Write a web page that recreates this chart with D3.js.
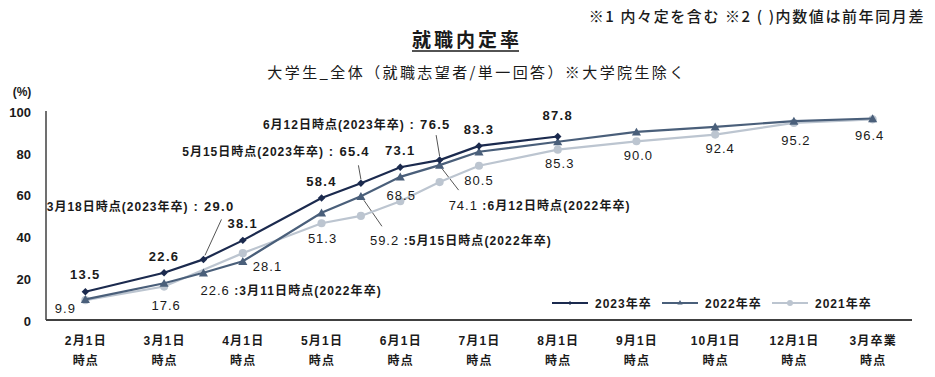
<!DOCTYPE html>
<html><head><meta charset="utf-8">
<script src="https://cdn.jsdelivr.net/npm/d3@7"></script>
<style>
body{margin:0;background:#fff;}
svg{display:block;}
text{font-family:"Liberation Sans","Noto Sans CJK JP",sans-serif;fill:#1a1a1a;}
</style></head><body>
<svg id="chart" width="935" height="377"></svg>
<script>
// ---------- data ----------
const categories = ["2月1日","3月1日","4月1日","5月1日","6月1日","7月1日","8月1日","9月1日","10月1日","12月1日","3月卒業"];
const categorySuffix = "時点";
const yTicks = [0,20,40,60,80,100];
const seriesNames = ["2023年卒","2022年卒","2021年卒"];

// positions on the timeline (category index; .5 = mid-month survey)
const pos2023 = [0,1,1.5,2,3,3.5,4,4.5,5,6];
const val2023 = [13.5,22.6,29.0,38.1,58.4,65.4,73.1,76.5,83.3,87.8];
const pos2022 = [0,1,1.5,2,3,3.5,4,4.5,5,6,7,8,9,10];
const val2022 = [9.9,17.6,22.6,28.1,51.3,59.2,68.5,74.1,80.5,85.3,90.0,92.4,95.2,96.4];
const pos2021 = [0,1,2,3,3.5,4,4.5,5,6,7,8,9,10];
const val2021 = [9.5,16.0,32.0,46.3,49.8,56.8,66.0,73.8,81.5,85.5,88.7,94.3,96.0];

const notes2023 = {2:"3月18日時点(2023年卒)",5:"5月15日時点(2023年卒)",7:"6月12日時点(2023年卒)"};
const notes2022 = {2:"3月11日時点(2022年卒)",5:"5月15日時点(2022年卒)",7:"6月12日時点(2022年卒)"};

const titleText = "就職内定率";
const subtitleText = "大学生_全体（就職志望者/単一回答）※大学院生除く";
const noteText = "※1 内々定を含む ※2 ( )内数値は前年同月差";
const unitText = "(%)";

// ---------- layout / style ----------
const colors = {"2023年卒":"#1b2a4e","2022年卒":"#4a5f7a","2021年卒":"#bcc5d0"};
const W = 935, H = 377;
const plot = {left:46, right:912, top:111, bottom:320};

// label offsets (style): [anchor, dx, dy]
const lab2023 = {def:["middle",0,-12], 0:["middle",0,-13], 9:["middle",0,-16],
  2:["end",31,-48], 5:["end",9,-27], 7:["end",11,-31]};
const lab2022 = {def:["middle",2,26], 0:["middle",-20,14], 1:["middle",2,27], 2:["start",-3,22],
  3:["start",10,10], 4:["middle",1,30], 5:["start",9,49], 6:["middle",1,23], 7:["start",9,45],
  8:["middle",0,33], 9:["middle",2,26], 10:["middle",2,28], 11:["middle",5,26], 12:["middle",2,24], 13:["middle",-3,21]};
const leader2023 = {2:[18,-40,1.5,-4], 5:[-2.5,-18,0,-4], 7:[-3.5,-25,0,-4]};
const leader2022 = {5:[3,4,21,30], 7:[2,3,19,25]};

const svg = d3.select("#chart");

const xBand = d3.scalePoint().domain(categories).range([plot.left, plot.right]).padding(0.5);
const x = d3.scaleLinear().domain([0, categories.length-1])
  .range([xBand(categories[0]), xBand(categories[categories.length-1])]);
const y = d3.scaleLinear().domain([0,100]).range([plot.bottom, plot.top]);

// titles
svg.append("text").attr("x", W-10).attr("y", 22).attr("text-anchor","end")
  .attr("font-size",15).attr("font-weight","500").attr("letter-spacing",1.6)
  .style("font-family","'Noto Sans CJK JP',sans-serif").text(noteText);
const tt = svg.append("text").attr("x", 467).attr("y", 47).attr("text-anchor","middle")
  .attr("font-size",19).attr("font-weight","bold").attr("letter-spacing",3)
  .style("font-family","'Noto Sans CJK JP',sans-serif").text(titleText);
const tb = tt.node().getBBox();
svg.append("line").attr("x1",tb.x).attr("x2",tb.x+tb.width-3).attr("y1",51).attr("y2",51)
  .attr("stroke","#1a1a1a").attr("stroke-width",1.5);
svg.append("text").attr("x", 477).attr("y", 78).attr("text-anchor","middle")
  .attr("font-size",15).attr("letter-spacing",2.4)
  .style("font-family","'Noto Sans CJK JP',sans-serif").text(subtitleText);

// y axis
const yAxis = svg.append("g").attr("transform",`translate(${plot.left},0)`)
  .call(d3.axisLeft(y).tickValues(yTicks).tickSize(0).tickSizeOuter(0).tickPadding(15));
yAxis.select(".domain").attr("stroke","#404040").attr("stroke-width",1.5)
  .attr("d", `M0,${plot.top}V${plot.bottom}`);
yAxis.selectAll(".tick text").attr("font-size",13).attr("font-weight","bold")
  .style("font-family","'Liberation Sans',sans-serif").attr("fill","#1a1a1a").attr("dy","0.4em");
svg.append("text").attr("x",22).attr("y",96).attr("text-anchor","middle")
  .attr("font-size",12).attr("font-weight","bold").text(unitText);

// x axis
const xAxis = svg.append("g").attr("transform",`translate(0,${plot.bottom})`)
  .call(d3.axisBottom(xBand).tickSize(0).tickSizeOuter(0));
xAxis.select(".domain").attr("stroke","#404040").attr("stroke-width",2)
  .attr("d", `M${plot.left},0H${plot.right}`);
xAxis.selectAll(".tick text").each(function(d){
  const t = d3.select(this);
  t.text(null).attr("y",0).attr("dy",null).attr("font-size",12).attr("font-weight","bold")
   .attr("letter-spacing",1.2).attr("fill","#1a1a1a");
  t.append("tspan").attr("x",0).attr("y",25).text(d);
  t.append("tspan").attr("x",0).attr("y",45).text(categorySuffix);
});

// series
const series = [
  {name:"2021年卒", pts:pos2021.map((p,i)=>({p, v:val2021[i], i})), sym:"circle"},
  {name:"2022年卒", pts:pos2022.map((p,i)=>({p, v:val2022[i], i})), sym:"triangle"},
  {name:"2023年卒", pts:pos2023.map((p,i)=>({p, v:val2023[i], i})), sym:"diamond"}
];
const line = d3.line().x(d=>x(d.p)).y(d=>y(d.v));
const symGen = {
  circle: d3.symbol(d3.symbolCircle, 52),
  triangle: d3.symbol(d3.symbolTriangle, 36),
  diamond: d3.symbol(d3.symbolSquare, 28)
};
const symRot = {circle:0, triangle:0, diamond:45};

// leader lines
function leaders(s, cfg){
  Object.keys(cfg).forEach(k=>{
    const d = s.pts[+k], o = cfg[k];
    svg.append("line").attr("x1",x(d.p)+o[0]).attr("y1",y(d.v)+o[1])
      .attr("x2",x(d.p)+o[2]).attr("y2",y(d.v)+o[3])
      .attr("stroke","#555").attr("stroke-width",1);
  });
}
leaders(series[2], leader2023);
leaders(series[1], leader2022);

series.forEach(s=>{
  const g = svg.append("g");
  g.append("path").datum(s.pts).attr("d",line).attr("fill","none")
    .attr("stroke",colors[s.name]).attr("stroke-width",2.2);
  g.selectAll("path.m").data(s.pts).join("path").attr("class","m")
    .attr("d",symGen[s.sym]).attr("fill",colors[s.name])
    .attr("transform",d=>`translate(${x(d.p)},${y(d.v)+(s.sym==="triangle"?1:0)}) rotate(${symRot[s.sym]})`);
});

// data labels 2023 (bold)
series[2].pts.forEach(d=>{
  const o = lab2023[d.i] || lab2023.def;
  const t = svg.append("text").attr("x",x(d.p)+o[1]).attr("y",y(d.v)+o[2])
    .attr("text-anchor",o[0]).attr("font-size",13).attr("font-weight","bold").attr("letter-spacing",1.3);
  if (notes2023[d.i]) {
    t.append("tspan").attr("font-size",12).attr("letter-spacing",1.0).text(notes2023[d.i]);
    t.append("tspan").text(" : ");
  }
  t.append("tspan").text(d.v.toFixed(1));
});
// data labels 2022
series[1].pts.forEach(d=>{
  const o = lab2022[d.i] || lab2022.def;
  const t = svg.append("text").attr("x",x(d.p)+o[1]).attr("y",y(d.v)+o[2])
    .attr("text-anchor",o[0]).attr("font-size",13).attr("letter-spacing",1);
  t.append("tspan").text(d.v.toFixed(1));
  if (notes2022[d.i]) {
    t.append("tspan").attr("font-weight","bold").attr("font-size",12).attr("letter-spacing",1.1)
      .text(" :" + notes2022[d.i]);
  }
});

// legend
const legX = [552, 662, 772];
const legY = 303;
["2023年卒","2022年卒","2021年卒"].forEach((name,k)=>{
  const sym = name==="2023年卒"?"diamond":name==="2022年卒"?"triangle":"circle";
  const g = svg.append("g").attr("transform",`translate(${legX[k]},${legY})`);
  g.append("line").attr("x1",0).attr("x2",36).attr("stroke",colors[name]).attr("stroke-width",2);
  const small = {diamond:d3.symbol(d3.symbolSquare,8), triangle:d3.symbol(d3.symbolTriangle,12), circle:d3.symbol(d3.symbolCircle,28)};
  g.append("path").attr("d",small[sym]).attr("fill",colors[name])
    .attr("transform",`translate(18,0) rotate(${symRot[sym]})`);
  g.append("text").attr("x",43).attr("y",4.5).attr("font-size",12).attr("font-weight","bold")
    .attr("letter-spacing",1).text(name);
});
</script>
</body></html>
